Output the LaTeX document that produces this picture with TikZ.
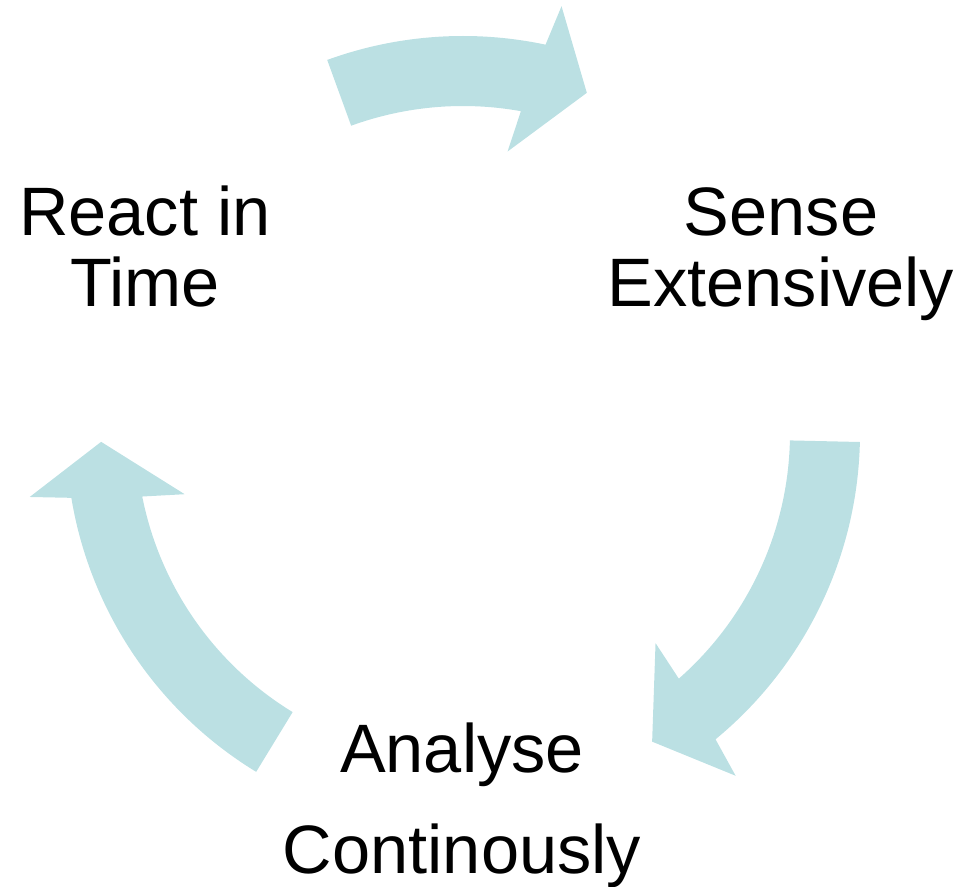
\documentclass[tikz,border=0pt]{standalone}
\usepackage{fontspec}
\setmainfont{Liberation Sans}
\usepackage{tikz}
\definecolor{cyclecol}{RGB}{187,224,227}
\tikzstyle{stage} = [inner sep=0pt, align=center, anchor=base, font=\fontsize{39}{40.4}\selectfont]
\tikzstyle{cyclearrow} = [fill=cyclecol, draw=none]

\begin{document}
\begin{tikzpicture}[x=0.02cm, y=0.02cm]
	\useasboundingbox (-463,-453) rectangle (499,433);
	\node (react) [stage] at (-318,127) {React in\\Time};
	\node (sense) [stage] at (318,127) {Sense\\Extensively};
	\node (analyse) [stage, font=\fontsize{39}{57.2}\selectfont] at (-1,-440) {Analyse\\Continously};
	
	% fat arrows: start angle / tip angle
	\foreach \s/\t in {110/70, -1.3/-58.5, 238.6/181.4}
		\fill [cyclearrow] (\s:397) arc[start angle=\s, end angle=\t+8, radius=397]
			-- ({\t+7}:438) -- (\t:362) -- ({\t+11}:285) -- ({\t+9.8}:327)
			arc[start angle=\t+9.8, end angle=\s, radius=327] -- cycle;
\end{tikzpicture}
\end{document}
